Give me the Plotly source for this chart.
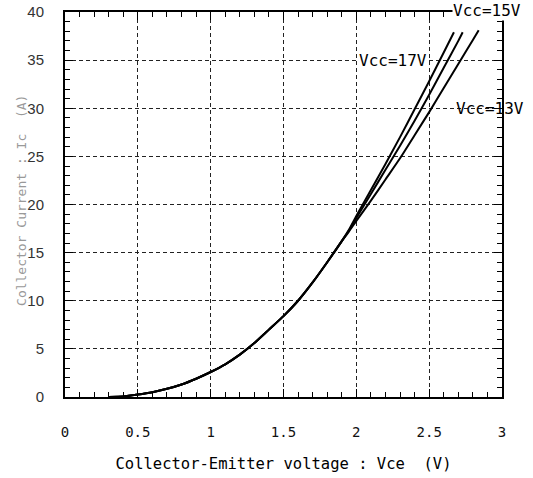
import plotly.graph_objects as go

# Common low-current portion (curves overlap)
vce_common = [0.3, 0.4, 0.5, 0.6, 0.7, 0.8, 0.9, 1.0, 1.1, 1.2, 1.3, 1.4, 1.5, 1.6, 1.7, 1.8, 1.9]
ic_common = [0.0, 0.05, 0.25, 0.5, 0.85, 1.3, 1.9, 2.6, 3.4, 4.4, 5.6, 7.0, 8.4, 10.0, 11.9, 14.0, 16.2]

# Upper portions per Vcc
vce_17 = [1.95, 2.0, 2.1, 2.2, 2.3, 2.4, 2.5, 2.6, 2.67]
ic_17 = [17.4, 18.8, 21.5, 24.2, 27.0, 29.9, 32.8, 35.8, 37.9]

vce_15 = [1.95, 2.0, 2.1, 2.2, 2.3, 2.4, 2.5, 2.6, 2.7, 2.73]
ic_15 = [17.3, 18.6, 21.1, 23.6, 26.1, 28.7, 31.4, 34.2, 37.0, 37.9]

vce_13 = [1.95, 2.0, 2.1, 2.2, 2.3, 2.4, 2.5, 2.6, 2.7, 2.8, 2.84]
ic_13 = [17.2, 18.3, 20.4, 22.6, 24.8, 27.2, 29.6, 32.1, 34.6, 37.1, 38.1]

x_ticks = [0, 0.5, 1, 1.5, 2, 2.5, 3]
x_ticktext = ["0", "0.5", "1", "1.5", "2", "2.5", "3"]
y_ticks = [0, 5, 10, 15, 20, 25, 30, 35, 40]

fig = go.Figure()
for vx, iy in [(vce_17, ic_17), (vce_15, ic_15), (vce_13, ic_13)]:
    fig.add_trace(go.Scatter(
        x=vce_common + vx, y=ic_common + iy, mode="lines",
        line=dict(color="black", width=2, shape="spline", smoothing=0.6),
        showlegend=False, hoverinfo="skip"))

lab_font = dict(family="DejaVu Sans Mono", size=16, color="black")
fig.add_annotation(x=2.25, y=35, text="Vcc=17V", showarrow=False, xanchor="center",
                   yanchor="middle", bgcolor="white", borderpad=0, font=lab_font)
fig.add_annotation(x=2.68, y=30, text="Vcc=13V", showarrow=False, xanchor="left",
                   yanchor="middle", borderpad=0, font=lab_font)
fig.add_annotation(x=2.66, yref="paper", y=1.031, text="Vcc=15V", showarrow=False,
                   xanchor="left", yanchor="top", bgcolor="white", borderpad=0,
                   font=lab_font)

fig.add_annotation(xref="paper", yref="paper", x=-0.1, y=0.51,
                   text="Collector Current : Ic  (A)", textangle=-90,
                   showarrow=False, xanchor="center", yanchor="middle",
                   font=dict(family="DejaVu Sans Mono", size=13, color="#999999"))

grid = dict(showgrid=True, gridcolor="#222222", gridwidth=1, griddash="4px,3px",
            showline=True, linecolor="black", linewidth=2, mirror="allticks",
            ticks="inside", ticklen=8, tickwidth=1, tickcolor="black",
            zeroline=False, automargin=False)

fig.update_xaxes(range=[0, 3], tickvals=x_ticks, ticktext=x_ticktext,
                 minor=dict(dtick=0.1, ticks="inside", ticklen=5, tickcolor="black", showgrid=False),
                 tickfont=dict(family="DejaVu Sans Mono", size=14, color="#111111"),
                 ticklabelstandoff=21,
                 title=dict(text="Collector-Emitter voltage : Vce  (V)",
                            font=dict(family="DejaVu Sans Mono", size=15.5, color="black"),
                            standoff=19),
                 **grid)
fig.update_yaxes(range=[0, 40], tickvals=y_ticks,
                 minor=dict(dtick=1, ticks="inside", ticklen=5, tickcolor="black", showgrid=False),
                 tickfont=dict(family="Liberation Sans", size=15, color="#333333"),
                 ticklabelstandoff=16,
                 **grid)

fig.update_layout(width=533, height=478, paper_bgcolor="white", plot_bgcolor="white",
                  margin=dict(l=65, r=31, t=12, b=81))
fig.write_html("out.html", config={"displayModeBar": False},
               post_script="document.body.style.margin='0';")
